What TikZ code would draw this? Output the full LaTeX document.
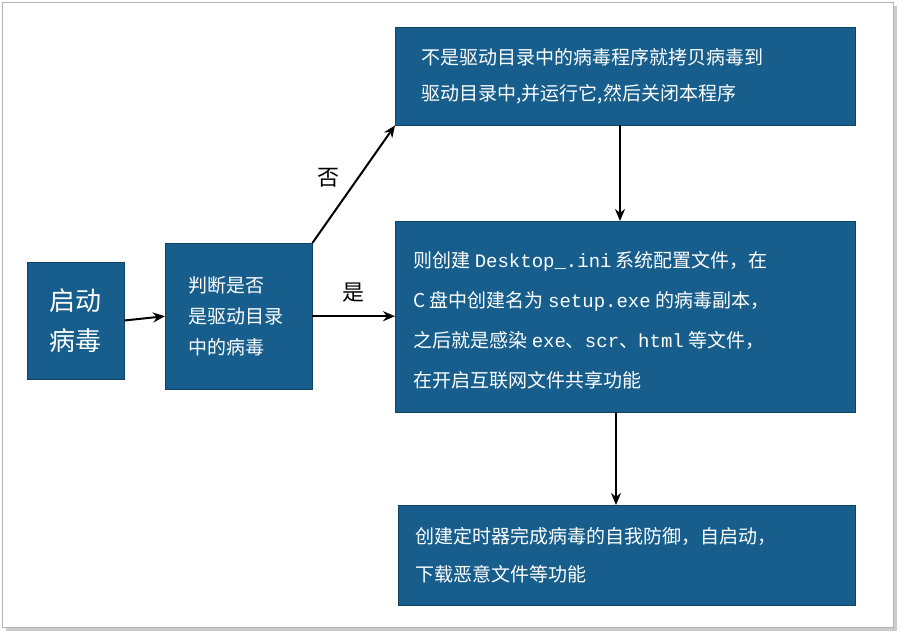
\documentclass[tikz,border=0pt]{standalone}
\usepackage{fontspec}
\newfontfamily\cjk{Noto Sans CJK SC}
\newfontfamily\mono{Liberation Mono}
\usetikzlibrary{arrows.meta}
\definecolor{boxblue}{RGB}{23,94,140}
\begin{document}
\begin{tikzpicture}[x=1pt,y=-1pt,
  bx/.style={fill=boxblue,draw=boxblue!70!black,text=white,font=\cjk\fontsize{19}{31}\selectfont,align=left,inner sep=0pt},
  arr/.style={-{Stealth[length=12pt,width=10pt]},line width=2pt,black},
  lbl/.style={font=\cjk\fontsize{22}{26}\selectfont}]
\useasboundingbox (0,0) rectangle (900,634);
\fill[white] (0,0) rectangle (900,634);
\fill[gray!40] (6,6) rectangle (897,631);
\draw[gray!60,fill=white] (2,2) rectangle (893,627);
\node[bx,minimum width=97pt,minimum height=117pt,align=center,font=\cjk\fontsize{26}{40}\selectfont] (start) at (75.5,320.5) {启动\\病毒};
\node[bx,minimum width=147pt,minimum height=146pt,anchor=north west,text width=125pt] (judge) at (165,243) {\hspace*{12pt}\begin{minipage}{120pt}\raggedright\fontsize{19}{31}\selectfont 判断是否\\是驱动目录\\中的病毒\end{minipage}};
\node[bx,minimum width=460pt,minimum height=98pt,anchor=north west] (top) at (395,27) {};
\node[anchor=west,text=white,font=\cjk\fontsize{19}{36}\selectfont,align=left] at (418,76) {不是驱动目录中的病毒程序就拷贝病毒到\\驱动目录中,并运行它,然后关闭本程序};
\node[bx,minimum width=460pt,minimum height=191pt,anchor=north west] (mid) at (395,221) {};
\node[anchor=west,text=white,font=\cjk\fontsize{19}{40}\selectfont,align=left] at (410,320) {则创建 {\mono Desktop\_.ini} 系统配置文件，在\\C 盘中创建名为 {\mono setup.exe} 的病毒副本，\\之后就是感染 {\mono exe}、{\mono scr}、{\mono html} 等文件，\\在开启互联网文件共享功能};
\node[bx,minimum width=457pt,minimum height=100pt,anchor=north west] (bot) at (398,505) {};
\node[anchor=west,text=white,font=\cjk\fontsize{19}{38}\selectfont,align=left] at (412,555) {创建定时器完成病毒的自我防御，自启动，\\下载恶意文件等功能};
\coordinate (t1) at (620,125); \coordinate (t2) at (620,221);
\coordinate (m1) at (616,412); \coordinate (m2) at (616,505);
\draw[arr] (start.east) -- (judge.west);
\draw[arr] (judge.east) -- (mid.west|-judge.east);
\draw[arr] (judge.north east) -- (top.south west);
\draw[arr] (t1) -- (t2);
\draw[arr] (m1) -- (m2);
\node[lbl] (no) at (328,178) {否};
\node[lbl] (yes) at (353,293) {是};
\end{tikzpicture}
\end{document}
